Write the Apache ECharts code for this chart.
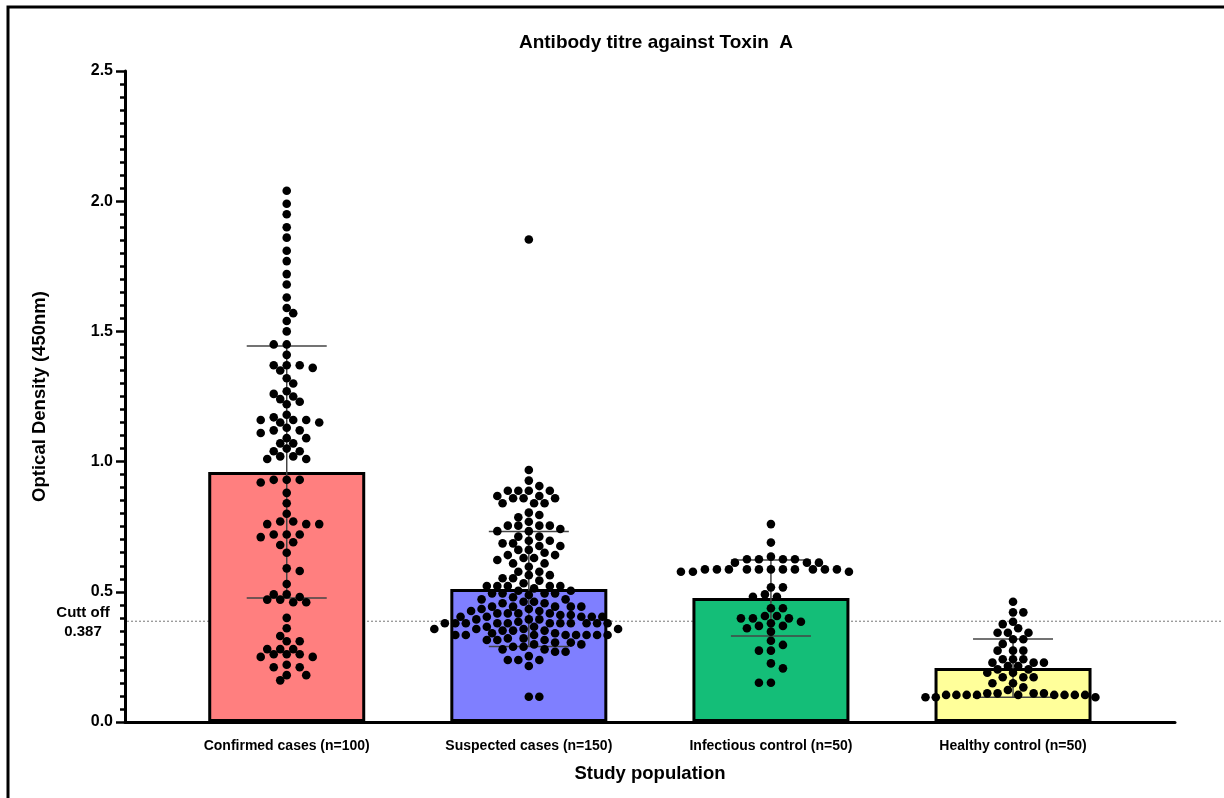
<!DOCTYPE html>
<html>
<head>
<meta charset="utf-8">
<script src="https://cdn.jsdelivr.net/npm/echarts@6/dist/echarts.min.js"></script>
<style>
html,body{margin:0;padding:0;background:#fff;}
#chart{width:1224px;height:798px;}
</style>
</head>
<body>
<div id="chart"></div>
<script>
// ---------------- data ----------------
const titleText = 'Antibody titre against Toxin  A';
const yAxisName = 'Optical Density (450nm)';
const xAxisName = 'Study population';
const categories = ['Confirmed cases (n=100)', 'Suspected cases (n=150)', 'Infectious control (n=50)', 'Healthy control (n=50)'];
const meanOD = [0.960, 0.511, 0.476, 0.207];
const sdOD = [0.484, 0.221, 0.146, 0.112];
const cutOff = 0.387;
const cutOffLabel = 'Cutt off\n0.387';
const yTicks = [0.0, 0.5, 1.0, 1.5, 2.0, 2.5];
const barColors = ['#FF7F7F', '#7F7FFF', '#14BE78', '#FFFF9A'];

const confirmedOD = [2.04,1.99,1.95,1.90,1.86,1.81,1.77,1.72,1.68,1.63,1.59,1.57,1.54,1.50,1.45,1.45,1.41,
  1.37,1.37,1.37,1.36,
  1.35,1.32,1.30,1.27,1.26,1.25,1.24,1.23,1.22,
  1.18,1.17,1.16,1.16,1.16,1.15,1.15,
  1.13,1.12,1.12,1.11,1.09,1.09,1.07,1.07,
  1.05,1.04,1.04,1.02,1.02,1.01,1.01,
  0.93,0.93,0.93,0.92,
  0.88,0.84,0.80,
  0.77,0.77,0.76,0.76,0.76,
  0.72,0.72,0.72,0.71,
  0.69,0.68,0.65,0.59,0.58,0.53,
  0.49,0.49,0.48,0.47,0.47,0.46,0.46,
  0.40,0.36,0.33,0.31,0.31,
  0.28,0.28,0.28,0.26,0.26,0.26,0.25,0.25,
  0.22,0.21,0.21,0.18,0.18,0.16];

const suspectedOD = [1.853,0.968,0.927,0.906,
  0.888,0.888,0.888,0.888,0.868,0.868,0.859,0.859,0.859,0.840,0.840,0.840,
  0.804,0.795,0.786,0.769,0.754,0.754,0.754,0.754,0.741,0.733,0.733,
  0.712,0.712,0.696,0.696,0.686,0.686,0.676,0.676,0.661,0.661,0.650,
  0.641,0.641,0.630,0.630,0.622,0.609,0.609,0.596,0.577,0.577,0.564,0.564,
  0.552,0.552,0.543,0.533,0.522,0.522,0.522,0.522,0.522,0.513,0.504,0.504,
  0.494,0.494,0.494,0.494,0.488,0.479,0.471,0.471,0.462,0.462,0.456,0.456,
  0.443,0.443,0.443,0.443,0.443,0.434,0.434,0.426,0.426,
  0.417,0.417,0.417,0.417,0.411,0.411,0.404,0.404,0.404,0.404,0.404,
  0.394,0.394,0.394,0.385,
  0.379,0.379,0.379,0.379,0.379,0.379,0.379,0.379,0.379,0.379,0.379,
  0.366,0.366,0.357,0.357,0.357,0.357,0.351,0.351,0.351,0.341,0.341,
  0.334,0.334,0.334,0.334,0.334,0.334,0.334,0.334,
  0.321,0.321,0.315,0.315,0.315,0.305,0.305,0.298,0.298,0.289,0.289,
  0.279,0.279,0.270,0.270,0.253,0.238,0.238,0.238,0.215,0.097,0.097];

const infectiousOD = [0.760,0.689,0.635,0.625,0.625,0.625,0.625,0.612,0.612,0.612,
  0.586,0.586,0.586,0.586,0.586,0.586,0.586,0.586,0.586,0.586,0.586,
  0.577,0.577,0.577,0.517,0.517,0.490,0.481,0.481,0.437,0.437,0.407,0.407,
  0.398,0.398,0.398,0.385,0.379,0.369,0.369,0.360,0.347,0.312,0.296,
  0.274,0.274,0.225,0.206,0.151,0.151];

const healthyOD = [0.462,0.421,0.421,0.385,0.376,0.360,0.343,0.343,0.343,0.318,0.318,
  0.300,0.274,0.274,0.274,0.241,0.241,0.241,0.228,0.228,0.228,0.215,0.215,
  0.202,0.202,0.189,0.189,0.172,0.172,0.172,0.149,0.149,0.133,0.123,
  0.110,0.110,0.110,0.110,0.104,0.104,0.104,0.104,0.104,0.104,0.104,0.104,0.104,
  0.095,0.095,0.095];

const groups = [confirmedOD, suspectedOD, infectiousOD, healthyOD];

// ---------------- layout ----------------
const W = 1224, H = 798;
const gridLeft = 125, gridRight = 49, gridTop = 71, gridBottom = 76;
const yMax = 2.5;
const xMin = -0.668, xMax = 3.669;
const dotR = 4.3;
const slotStep = [13, 10.5, 12, 10.3];   // horizontal spacing of dots side by side (px)
const minDist = 8.3;                      // minimum centre distance between dots (px)
const yScale = (H - gridTop - gridBottom) / yMax;

// grid-constrained beeswarm: x offsets at multiples of half a slot
function swarm(values, step) {
  const half = step / 2;
  const order = values.map((v, i) => i).sort((a, b) => values[b] - values[a]);
  const placed = [];
  const off = new Array(values.length);
  let flip = 1;
  for (const i of order) {
    const y = values[i] * yScale;
    const near = placed.filter(p => Math.abs(p.y - y) < minDist);
    const free = x => near.every(p => (p.x - x) * (p.x - x) + (p.y - y) * (p.y - y) >= minDist * minDist - 1e-6);
    let best = 0;
    for (let j = 0; j < 200; j++) {
      const a = flip * j * half, b = -flip * j * half;
      if (free(a)) { best = a; break; }
      if (free(b)) { best = b; break; }
    }
    if (Math.abs(best) > 1e-6) flip = -flip;
    placed.push({ x: best, y: y });
    off[i] = best;
  }
  return off;
}

const dotData = [];
groups.forEach((vals, g) => {
  const off = swarm(vals, slotStep[g]);
  vals.forEach((v, k) => dotData.push([g, v, off[k]]));
});

const barData = meanOD.map((m, i) => ({ value: [i, m], itemStyle: { color: barColors[i] } }));
const errData = meanOD.map((m, i) => [i, m, sdOD[i]]);

const font = 'Arial, "Liberation Sans", Helvetica, sans-serif';

const chart = echarts.init(document.getElementById('chart'), null, { renderer: 'canvas' });

const option = {
  backgroundColor: '#fff',
  animation: false,
  title: {
    text: titleText,
    left: 651, top: 28, textAlign: 'center',
    textStyle: { fontFamily: font, fontWeight: 'bold', fontSize: 19, color: '#000' }
  },
  grid: { left: gridLeft, right: gridRight, top: gridTop, bottom: gridBottom, containLabel: false },
  xAxis: {
    type: 'value', min: xMin, max: xMax,
    name: xAxisName, nameLocation: 'middle', nameGap: 42,
    nameTextStyle: { fontFamily: font, fontWeight: 'bold', fontSize: 18.5, color: '#000' },
    splitLine: { show: false },
    axisLine: { show: true, onZero: false, lineStyle: { color: '#000', width: 3 } },
    axisTick: { show: false },
    axisLabel: {
      customValues: [0, 1, 2, 3], margin: 17,
      formatter: v => categories[Math.round(v)] || '',
      fontFamily: font, fontWeight: 'bold', fontSize: 14, color: '#000'
    }
  },
  yAxis: {
    type: 'value', min: 0, max: yMax, interval: 0.5,
    name: yAxisName, nameLocation: 'middle', nameGap: 76,
    nameTextStyle: { fontFamily: font, fontWeight: 'bold', fontSize: 18.5, color: '#000' },
    splitLine: { show: false },
    axisLine: { show: true, onZero: false, lineStyle: { color: '#000', width: 3 } },
    axisTick: { show: true, length: 9, lineStyle: { color: '#000', width: 2.5 } },
    minorTick: { show: true, splitNumber: 10, length: 5, lineStyle: { color: '#000', width: 2.5 } },
    axisLabel: {
      margin: 12, formatter: v => (yTicks.indexOf(v) >= 0 ? v.toFixed(1) : ''),
      fontFamily: font, fontWeight: 'bold', fontSize: 16, color: '#000'
    }
  },
  series: [
    {
      type: 'bar', data: barData, barWidth: 157, z: 2,
      itemStyle: { borderColor: '#000', borderWidth: 3 }
    },
    {
      type: 'custom', data: errData, z: 3,
      renderItem: function (params, api) {
        const i = api.value(0), m = api.value(1), s = api.value(2);
        const top = api.coord([i, m + s]);
        const bot = api.coord([i, m - s]);
        const hw = 40;
        const st = { stroke: '#444', lineWidth: 1.5 };
        return {
          type: 'group', children: [
            { type: 'line', shape: { x1: top[0], y1: top[1], x2: bot[0], y2: bot[1] }, style: st },
            { type: 'line', shape: { x1: top[0] - hw, y1: top[1], x2: top[0] + hw, y2: top[1] }, style: st },
            { type: 'line', shape: { x1: bot[0] - hw, y1: bot[1], x2: bot[0] + hw, y2: bot[1] }, style: st }
          ]
        };
      }
    },
    {
      type: 'custom', data: dotData, z: 4,
      renderItem: function (params, api) {
        const p = api.coord([api.value(0), api.value(1)]);
        return { type: 'circle', shape: { cx: p[0] + api.value(2), cy: p[1], r: dotR }, style: { fill: '#000' } };
      }
    }
  ]
};
chart.setOption(option);

// cut-off reference line and its label, positioned through the axis scales
const yCut = chart.convertToPixel({ yAxisIndex: 0 }, cutOff);
const xStart = chart.convertToPixel({ xAxisIndex: 0 }, xMin);
chart.setOption({
  graphic: [
    { type: 'rect', shape: { x: 8, y: 7, width: 1400, height: 1000 }, style: { fill: 'none', stroke: '#000', lineWidth: 3 }, z: 100 },
    { type: 'line', shape: { x1: xStart + 2, y1: yCut, x2: 1222, y2: yCut }, style: { stroke: '#777', lineWidth: 1, lineDash: [2, 2] }, z: 1 },
    { type: 'text', x: 83, y: yCut + 1, style: { text: cutOffLabel, fontFamily: font, fontWeight: 'bold', fontSize: 15, fill: '#000', align: 'center', verticalAlign: 'middle', lineHeight: 19 }, z: 100 }
  ]
});
</script>
</body>
</html>
